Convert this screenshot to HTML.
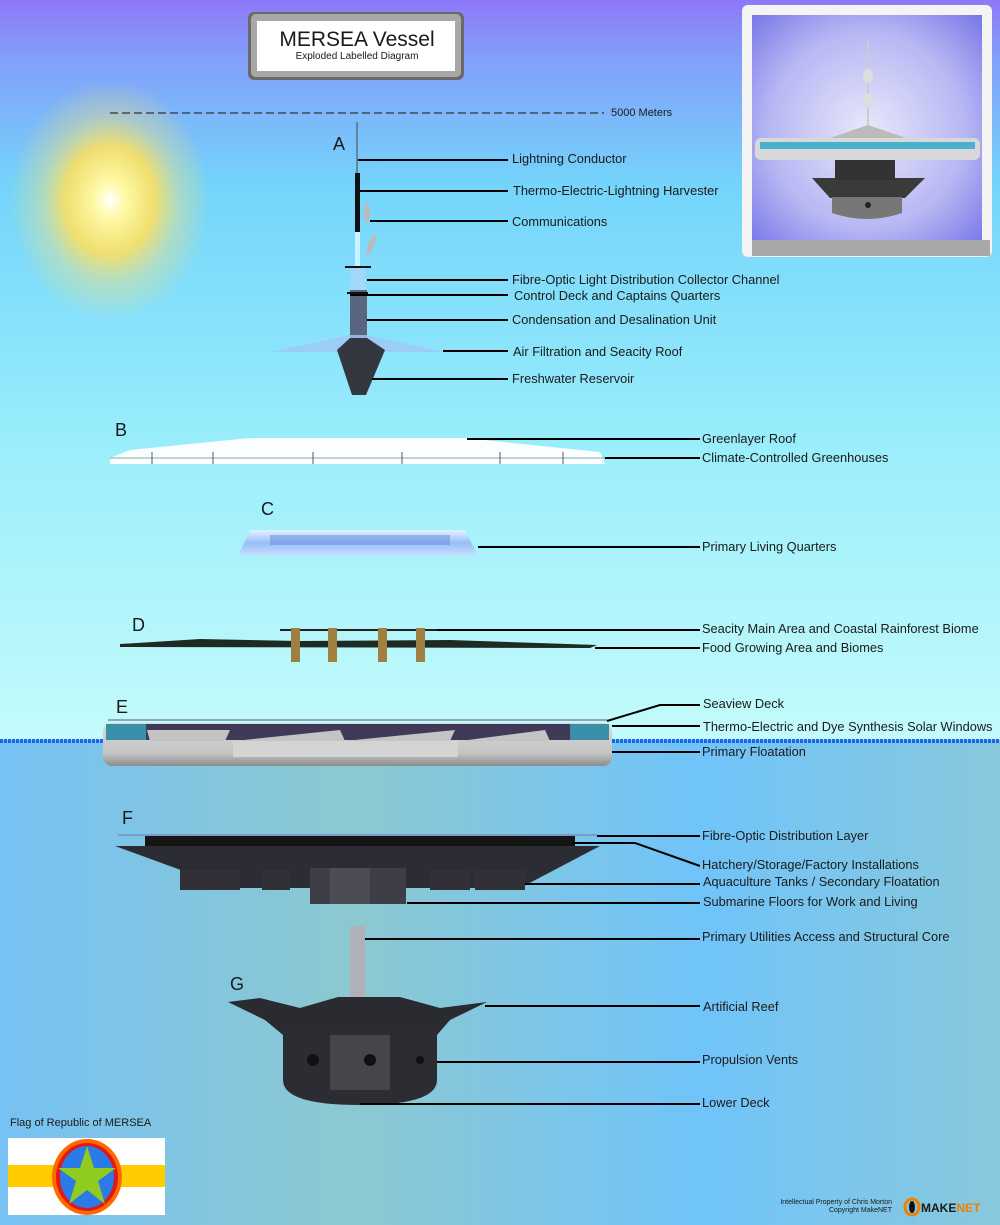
<!DOCTYPE html>
<html><head><meta charset="utf-8"><style>
html,body{margin:0;padding:0;width:1000px;height:1225px;overflow:hidden}
svg{display:block}
text{font-family:"Liberation Sans",sans-serif;fill:#1a1a1a}
</style></head><body>
<svg width="1000" height="1225" viewBox="0 0 1000 1225" xmlns="http://www.w3.org/2000/svg">
<defs>
<linearGradient id="sky" x1="0" y1="0" x2="0" y2="1">
<stop offset="0" stop-color="#8e78f8"/><stop offset="0.08" stop-color="#82a0fa"/>
<stop offset="0.25" stop-color="#74d4fb"/><stop offset="0.6" stop-color="#9aeefb"/><stop offset="1" stop-color="#c4fbfb"/>
</linearGradient>
<linearGradient id="sea" x1="0" y1="0" x2="1" y2="0">
<stop offset="0" stop-color="#76c2f4"/><stop offset="0.35" stop-color="#8cc8d0"/><stop offset="0.7" stop-color="#70c4fa"/><stop offset="1" stop-color="#88c8dc"/>
</linearGradient>
<radialGradient id="sun" cx="0.5" cy="0.5" r="0.5">
<stop offset="0" stop-color="#ffffff"/><stop offset="0.15" stop-color="#fffaa8"/><stop offset="0.45" stop-color="#fde060" stop-opacity="0.9"/><stop offset="0.7" stop-color="#f0e080" stop-opacity="0.4"/><stop offset="1" stop-color="#fde060" stop-opacity="0"/>
</radialGradient>
<radialGradient id="cloud" cx="0.5" cy="0.5" r="0.7">
<stop offset="0" stop-color="#e8e8fa"/><stop offset="0.6" stop-color="#b8b8f4"/><stop offset="1" stop-color="#7878e8"/>
</radialGradient>
<linearGradient id="float" x1="0" y1="0" x2="0" y2="1">
<stop offset="0" stop-color="#d8d8d8"/><stop offset="0.7" stop-color="#c4c4c4"/><stop offset="1" stop-color="#8c8c8c"/>
</linearGradient>
<linearGradient id="glass" x1="0" y1="0" x2="0" y2="1">
<stop offset="0" stop-color="#e8f4ff"/><stop offset="0.5" stop-color="#98b8f8"/><stop offset="1" stop-color="#c8e0ff"/>
</linearGradient>
</defs>
<rect width="1000" height="740" fill="url(#sky)"/>
<rect y="740" width="1000" height="485" fill="url(#sea)"/>
<ellipse cx="110" cy="200" rx="100" ry="120" fill="url(#sun)"/>
<path d="M0 741 H1000" stroke="#1a64f0" stroke-width="4" stroke-dasharray="3 1"/>

<rect x="248" y="12" width="216" height="68" rx="6" fill="#6a6a6a"/>
<rect x="251" y="14" width="210" height="63" rx="5" fill="#a8a8a8"/>
<rect x="257" y="21" width="198" height="50" fill="#fff"/>
<text x="357" y="46" font-size="21" text-anchor="middle" fill="#222">MERSEA Vessel</text>
<text x="357" y="59" font-size="10" text-anchor="middle">Exploded Labelled Diagram</text>

<rect x="742" y="5" width="250" height="252" rx="6" fill="#f4f4f4"/>
<rect x="752" y="15" width="230" height="231" fill="url(#cloud)"/>
<rect x="752" y="240" width="238" height="16" fill="#a8a8a8"/>
<line x1="868" y1="40" x2="868" y2="130" stroke="#ccc" stroke-width="2"/>
<ellipse cx="868" cy="76" rx="5" ry="7" fill="#ddd"/><ellipse cx="868" cy="101" rx="5" ry="7" fill="#ddd"/>
<path d="M830 138 L868 125 L906 138 Z" fill="#bbb"/>
<rect x="755" y="138" width="225" height="22" rx="6" fill="#d8d8d8"/>
<rect x="760" y="142" width="215" height="7" fill="#4ab0d0"/>
<path d="M812 178 L925 178 L905 198 L830 198 Z" fill="#3a3a3a"/>
<rect x="835" y="160" width="60" height="20" fill="#333"/>
<path d="M832 197 L902 197 L902 213 Q867 225 832 213 Z" fill="#777"/>
<circle cx="868" cy="205" r="3" fill="#222"/>

<line x1="110" y1="113" x2="604" y2="113" stroke="#333" stroke-width="1.3" stroke-dasharray="8 4"/>
<text x="611" y="116" font-size="11">5000 Meters</text>

<g font-size="18" fill="#222">
<text x="333" y="150">A</text><text x="115" y="436">B</text><text x="261" y="515">C</text>
<text x="132" y="631">D</text><text x="116" y="713">E</text><text x="122" y="824">F</text><text x="230" y="990">G</text>
</g>

<line x1="357" y1="122" x2="357" y2="175" stroke="#444" stroke-width="1"/>
<rect x="355" y="173" width="5" height="60" fill="#111"/>
<rect x="355" y="232" width="5" height="35" fill="#c8f4ff"/>
<ellipse cx="367" cy="213" rx="3" ry="10" fill="#bbb"/>
<ellipse cx="371" cy="245" rx="3" ry="11" fill="#bbb" transform="rotate(20 371 245)"/>
<line x1="345" y1="267" x2="371" y2="267" stroke="#111" stroke-width="2"/>
<path d="M350 268 L366 268 L366 290 L350 290 Z" fill="#a8d8f8" opacity="0.8"/>
<rect x="350" y="290" width="17" height="48" fill="#5a6680"/>
<line x1="347" y1="293" x2="368" y2="293" stroke="#111" stroke-width="2"/>
<path d="M270 352 L350 335 L367 335 L443 352 Z" fill="#a0c8f4" opacity="0.8"/>
<path d="M337 350 L350 338 L367 338 L385 350 L366 395 L352 395 Z" fill="#333840"/>

<path d="M110 458 L130 450 L250 438 L465 438 L600 452 L605 464 L110 464 Z" fill="#fafeff"/>
<path d="M110 458 L605 458" stroke="#8aa" stroke-width="1"/>
<g stroke="#557" stroke-width="1"><line x1="152" y1="452" x2="152" y2="464"/><line x1="213" y1="452" x2="213" y2="464"/><line x1="313" y1="452" x2="313" y2="464"/><line x1="402" y1="452" x2="402" y2="464"/><line x1="500" y1="452" x2="500" y2="464"/><line x1="563" y1="452" x2="563" y2="464"/></g>

<path d="M238 556 L250 530 L465 530 L478 556 Z" fill="url(#glass)" opacity="0.9"/>
<rect x="270" y="535" width="180" height="10" fill="#6a88e0" opacity="0.5"/>

<path d="M120 644 L200 639 L300 641 L450 640 L597 645 L590 648 L120 647 Z" fill="#1e2a24"/>
<line x1="280" y1="630" x2="437" y2="630" stroke="#222" stroke-width="2"/>
<g fill="#a08040"><rect x="291" y="628" width="9" height="34"/><rect x="328" y="628" width="9" height="34"/><rect x="378" y="628" width="9" height="34"/><rect x="416" y="628" width="9" height="34"/></g>

<line x1="108" y1="720" x2="607" y2="720" stroke="#8aa8b8" stroke-width="2"/>
<rect x="103" y="723" width="509" height="43" rx="9" fill="url(#float)"/>
<rect x="106" y="724" width="503" height="16" fill="#403a58"/>
<rect x="106" y="724" width="40" height="16" fill="#3a90a8"/><rect x="570" y="724" width="39" height="16" fill="#3a90a8"/>
<path d="M147 730 L150 741 L225 741 L230 730 Z M234 741 L345 741 L340 730 Z M345 741 L450 741 L455 730 Z M460 741 L550 741 L545 730 Z" fill="#c4c4c4"/>
<rect x="233" y="741" width="225" height="16" fill="#d4d4d4"/>

<line x1="118" y1="835" x2="597" y2="835" stroke="#7890c0" stroke-width="1.5"/>
<rect x="145" y="836" width="430" height="10" fill="#151515"/>
<path d="M115 846 L600 846 L520 888 L230 888 Z" fill="#2c2d34"/>
<g fill="#303036"><rect x="180" y="870" width="60" height="20"/><rect x="262" y="870" width="28" height="20"/><rect x="430" y="870" width="40" height="20"/><rect x="475" y="870" width="50" height="20"/></g>
<rect x="310" y="868" width="96" height="36" fill="#3e3f46"/>
<rect x="330" y="868" width="40" height="36" fill="#4c4d54"/>

<rect x="350" y="926" width="15" height="76" fill="#b0b0b8"/>
<path d="M228 1002 L260 998 L300 1008 L338 997 L400 997 L440 1008 L487 1002 L450 1020 L437 1035 L283 1035 L265 1020 Z" fill="#2a2b30"/>
<path d="M283 1030 L437 1030 L437 1080 Q437 1105 360 1105 Q283 1105 283 1080 Z" fill="#2c2d32"/>
<rect x="330" y="1035" width="60" height="55" fill="#45464c"/>
<circle cx="313" cy="1060" r="6" fill="#111"/><circle cx="370" cy="1060" r="6" fill="#111"/><circle cx="420" cy="1060" r="4" fill="#111"/>

<g stroke="#000" stroke-width="2" fill="none">
<line x1="358" y1="160" x2="508" y2="160"/>
<line x1="360" y1="191" x2="508" y2="191"/>
<line x1="370" y1="221" x2="508" y2="221"/>
<line x1="367" y1="280" x2="508" y2="280"/>
<line x1="350" y1="295" x2="508" y2="295"/>
<line x1="367" y1="320" x2="508" y2="320"/>
<line x1="443" y1="351" x2="508" y2="351"/>
<line x1="372" y1="379" x2="508" y2="379"/>
<line x1="467" y1="439" x2="700" y2="439"/>
<line x1="605" y1="458" x2="700" y2="458"/>
<line x1="478" y1="547" x2="700" y2="547"/>
<line x1="437" y1="630" x2="700" y2="630"/>
<line x1="595" y1="648" x2="700" y2="648"/>
<polyline points="607,721 660,705 700,705"/>
<line x1="612" y1="726" x2="700" y2="726"/>
<line x1="612" y1="752" x2="700" y2="752"/>
<line x1="597" y1="836" x2="700" y2="836"/>
<polyline points="572,843 635,843 700,866"/>
<line x1="525" y1="884" x2="700" y2="884"/>
<line x1="407" y1="903" x2="700" y2="903"/>
<line x1="365" y1="939" x2="700" y2="939"/>
<line x1="485" y1="1006" x2="700" y2="1006"/>
<line x1="437" y1="1062" x2="700" y2="1062"/>
<line x1="360" y1="1104" x2="700" y2="1104"/>
</g>

<g font-size="12.8">
<text x="512" y="163">Lightning Conductor</text>
<text x="513" y="195">Thermo-Electric-Lightning Harvester</text>
<text x="512" y="226">Communications</text>
<text x="512" y="284">Fibre-Optic Light Distribution Collector Channel</text>
<text x="514" y="300">Control Deck and Captains Quarters</text>
<text x="512" y="324">Condensation and Desalination Unit</text>
<text x="513" y="356">Air Filtration and Seacity Roof</text>
<text x="512" y="383">Freshwater Reservoir</text>
<text x="702" y="443">Greenlayer Roof</text>
<text x="702" y="462">Climate-Controlled Greenhouses</text>
<text x="702" y="551">Primary Living Quarters</text>
<text x="702" y="633">Seacity Main Area and Coastal Rainforest Biome</text>
<text x="702" y="652">Food Growing Area and Biomes</text>
<text x="703" y="708">Seaview Deck</text>
<text x="703" y="731">Thermo-Electric and Dye Synthesis Solar Windows</text>
<text x="702" y="756">Primary Floatation</text>
<text x="702" y="840">Fibre-Optic Distribution Layer</text>
<text x="702" y="869">Hatchery/Storage/Factory Installations</text>
<text x="703" y="886">Aquaculture Tanks / Secondary Floatation</text>
<text x="703" y="906">Submarine Floors for Work and Living</text>
<text x="702" y="941">Primary Utilities Access and Structural Core</text>
<text x="703" y="1011">Artificial Reef</text>
<text x="702" y="1064">Propulsion Vents</text>
<text x="702" y="1107">Lower Deck</text>
</g>

<text x="10" y="1126" font-size="11">Flag of Republic of MERSEA</text>
<rect x="8" y="1138" width="157" height="77" fill="#fff"/>
<rect x="8" y="1165" width="157" height="22" fill="#ffcc00"/>
<ellipse cx="87" cy="1177" rx="35" ry="38" fill="#ff6a00"/>
<ellipse cx="87" cy="1177" rx="31" ry="34" fill="#e01818"/>
<ellipse cx="87" cy="1177" rx="27" ry="31" fill="#2a7ae8"/>
<polygon points="87,1146 94,1168 116,1168 98,1181 105,1204 87,1190 69,1204 76,1181 58,1168 80,1168" fill="#90cc20"/>

<text x="892" y="1204" font-size="7" text-anchor="end">Intellectual Property of Chris Morton</text>
<text x="892" y="1212" font-size="7" text-anchor="end">Copyright MakeNET</text>
<ellipse cx="912" cy="1207" rx="7" ry="8" fill="none" stroke="#f08000" stroke-width="3"/>
<ellipse cx="912" cy="1207" rx="3" ry="6" fill="#111"/>
<text x="921" y="1212" font-size="12" font-weight="bold" fill="#222">MAKE<tspan fill="#f08000">NET</tspan></text>
</svg>
</body></html>
